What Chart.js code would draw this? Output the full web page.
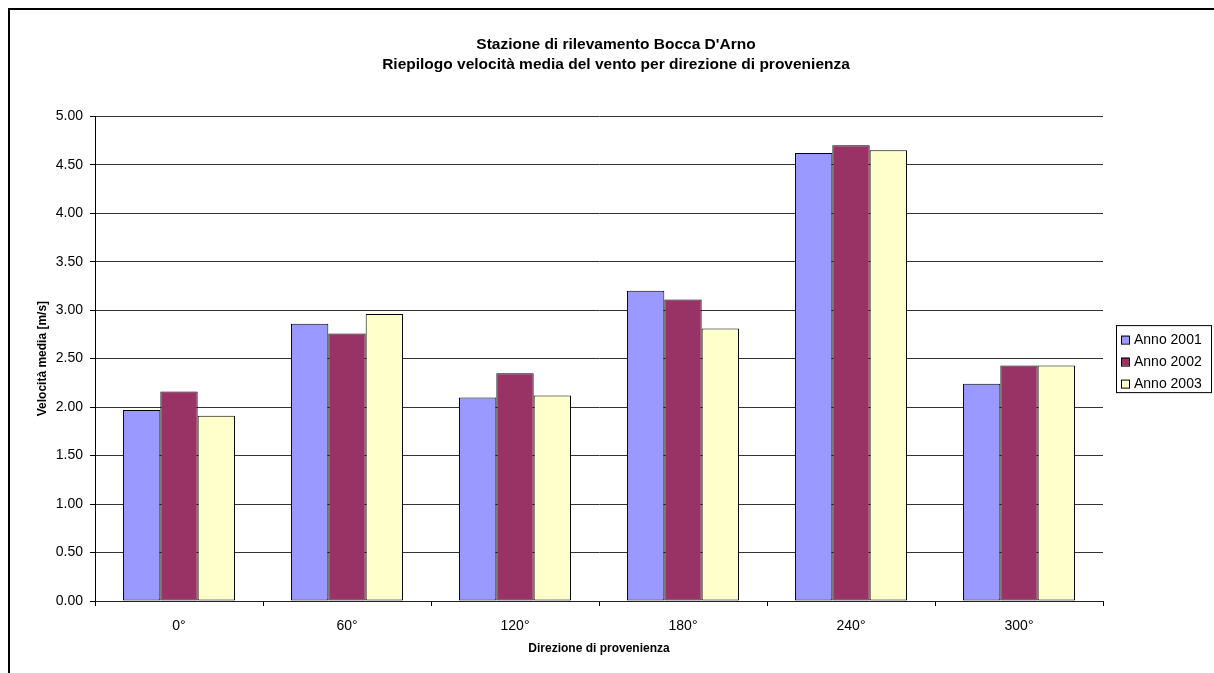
<!DOCTYPE html>
<html>
<head>
<meta charset="utf-8">
<title>Bocca D'Arno - velocità media del vento</title>
<script src="https://cdn.jsdelivr.net/npm/chart.js@4.4.1/dist/chart.umd.min.js"></script>
<style>
  html, body { margin: 0; padding: 0; background: #fff; overflow: hidden; }
  #wrap { position: relative; width: 1214px; height: 673px; }
  #chart { position: absolute; left: 0; top: 0; }
  #frame { position: absolute; left: 8px; top: 8px; width: 1400px; height: 900px;
           border: 2px solid #000; pointer-events: none; }
</style>
</head>
<body>
<div id="wrap">
  <canvas id="chart" width="1214" height="673"></canvas>
  <div id="frame"></div>
</div>
<script>
// ─── data ────────────────────────────────────────────────────────────────────
const directions = ['0°', '60°', '120°', '180°', '240°', '300°'];
const years      = ['Anno 2001', 'Anno 2002', 'Anno 2003'];
const anno2001   = [1.97, 2.86, 2.10, 3.20, 4.62, 2.24];
const anno2002   = [2.16, 2.76, 2.35, 3.11, 4.70, 2.43];
const anno2003   = [1.91, 2.96, 2.12, 2.81, 4.65, 2.43];
const colors     = ['#9999FF', '#993366', '#FFFFCC'];
const titleLines = ['Stazione di rilevamento Bocca D\'Arno',
                    'Riepilogo velocità media del vento per direzione di provenienza'];

Chart.defaults.font.family = 'Arial, "Liberation Sans", sans-serif';
Chart.defaults.color = '#000';

// ─── legend drawn as a bordered box right of the plot ────────────────────────
const boxLegend = {
  id: 'boxLegend',
  afterDraw(chart) {
    const { ctx, chartArea } = chart;
    const w = 95, rowH = 22, h = 67;
    const x0 = chartArea.right + 13;
    const y0 = (chartArea.top + chartArea.bottom) / 2 - h / 2;
    ctx.save();
    ctx.fillStyle = '#fff';
    ctx.fillRect(x0, y0, w, h);
    ctx.strokeStyle = '#000';
    ctx.lineWidth = 1;
    ctx.strokeRect(x0 + 0.5, y0 + 0.5, w, h);
    ctx.font = '14px Arial, "Liberation Sans", sans-serif';
    ctx.textBaseline = 'middle';
    chart.data.datasets.forEach((ds, i) => {
      const cy = y0 + 14.5 + i * rowH;
      ctx.fillStyle = ds.backgroundColor;
      ctx.fillRect(x0 + 5, cy - 4, 8, 8);
      ctx.strokeStyle = '#000';
      ctx.strokeRect(x0 + 5.5, cy - 3.5, 8, 8);
      ctx.fillStyle = '#000';
      ctx.fillText(ds.label, x0 + 18, cy + 1);
    });
    ctx.restore();
  }
};

const datasets = [anno2001, anno2002, anno2003].map((vals, i) => ({
  label: years[i],
  data: vals,
  backgroundColor: colors[i],
  borderColor: '#000',
  borderWidth: 1,
  borderSkipped: false,
  categoryPercentage: 0.667,
  barPercentage: 1.0,
}));

new Chart(document.getElementById('chart'), {
  type: 'bar',
  data: { labels: directions, datasets },
  options: {
    responsive: false,
    animation: false,
    devicePixelRatio: 1,
    layout: { padding: { left: 18, right: 0, top: 0, bottom: 0 } },
    plugins: {
      legend: { display: false },
      tooltip: { enabled: false },
      title: {
        display: true,
        text: titleLines,
        color: '#000',
        font: { size: 15.5, weight: 'bold', lineHeight: 1.33 },
        padding: { top: 34, bottom: 41 },
      },
    },
    scales: {
      x: {
        grid: { display: true, drawOnChartArea: false, drawTicks: true, tickLength: 5,
                offset: true, tickColor: '#000' },
        border: { display: true, color: '#222', width: 1 },
        ticks: { font: { size: 14 }, padding: 12, maxRotation: 0 },
        title: { display: true, text: 'Direzione di provenienza',
                 font: { size: 12, weight: 'bold' }, padding: { top: 0, bottom: 17 } },
        afterFit(s) { s.height = 72; },
      },
      y: {
        min: 0, max: 5,
        ticks: { stepSize: 0.5, font: { size: 14 }, padding: 7,
                 callback: v => Number(v).toFixed(2) },
        grid: { color: '#333', borderDash: [1, 1], tickLength: 5, tickColor: '#000',
                tickBorderDash: [] },
        border: { display: true, color: '#000', width: 1 },
        title: { display: true, text: 'Velocità media [m/s]',
                 font: { size: 12, weight: 'bold' }, padding: { top: 17, bottom: 0 } },
        afterFit(s) { s.width = 77; },
      },
      yRight: {
        position: 'right',
        display: true,
        grid: { display: false },
        border: { display: false },
        ticks: { display: false },
        afterFit(s) { s.width = 111; },
      },
    },
  },
  plugins: [boxLegend],
});
</script>
</body>
</html>
